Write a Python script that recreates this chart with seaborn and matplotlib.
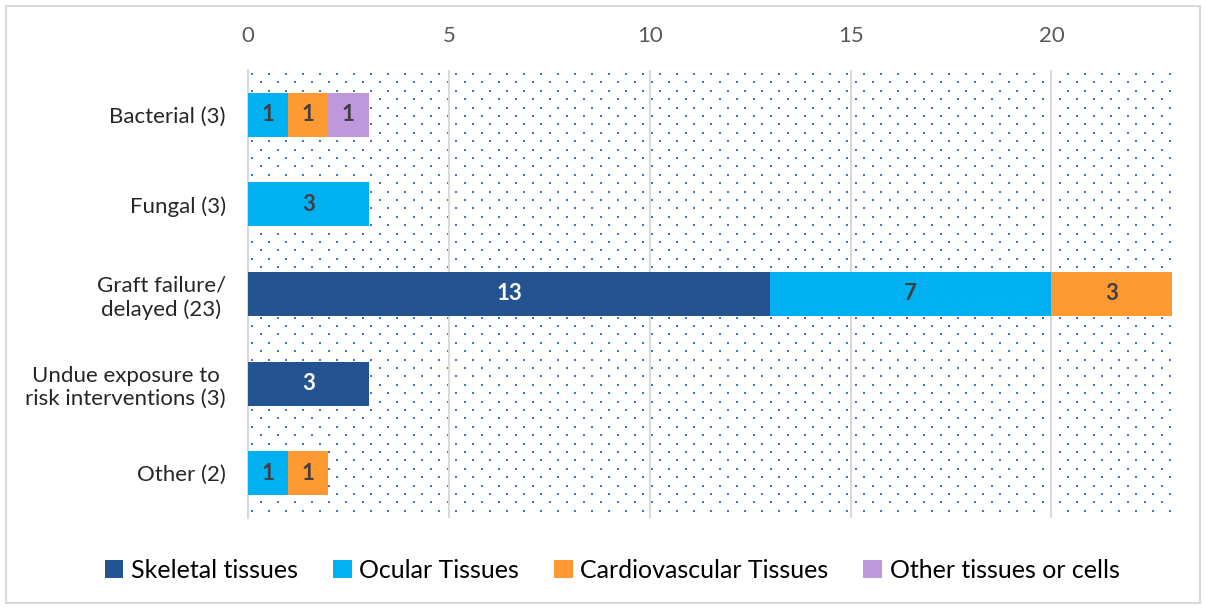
import matplotlib
matplotlib.use('Agg')
import matplotlib.pyplot as plt
import seaborn as sns
import numpy as np
import pandas as pd
from matplotlib.patches import Rectangle, Patch

# data
categories = ['Bacterial (3)', 'Fungal (3)', 'Graft failure/\ndelayed (23)',
              'Undue exposure to\nrisk interventions (3)', 'Other (2)']
series_names = ['Skeletal tissues', 'Ocular Tissues', 'Cardiovascular Tissues', 'Other tissues or cells']
skeletal = [0, 0, 13, 3, 0]
ocular = [1, 3, 7, 0, 1]
cardio = [1, 0, 3, 0, 1]
other_cells = [1, 0, 0, 0, 0]
x_ticks = [0, 5, 10, 15, 20]

colors = ['#245391', '#00B0F0', '#FF9A33', '#BF97DD']
label_colors = ['white', '#404040', '#404040', '#404040']

sns.set_style('white')
plt.rcParams['font.family'] = ['Lato', 'DejaVu Sans']

W, H = 1206, 608
fig = plt.figure(figsize=(W / 100, H / 100), dpi=100)
ax_l, ax_t, ax_w, ax_h = 248, 70, 924, 448
ax = fig.add_axes([ax_l / W, 1 - (ax_t + ax_h) / H, ax_w / W, ax_h / H])

# figure frame
fig.patches.append(Rectangle((6 / W, 5 / H), 1 - 12 / W, 1 - 11 / H,
                             transform=fig.transFigure, fill=False,
                             edgecolor='#D9D9D9', linewidth=1.5))

# dotted plot-area fill (staggered dot lattice, in pixels)
dx, dy = 17.0, 8.4
pts = []
for r, yy in enumerate(np.arange(4, ax_h, dy)):
    x0 = 4 if r % 2 == 0 else 4 + dx / 2
    for xx in np.arange(x0, ax_w, dx):
        pts.append((xx / ax_w, 1 - yy / ax_h))
pts = np.array(pts)
ax.scatter(pts[:, 0], pts[:, 1], transform=ax.transAxes, marker='s', s=1.6,
           color='#4472C4', linewidths=0, zorder=0, clip_on=False)

series = [skeletal, ocular, cardio, other_cells]
cum = np.cumsum(np.array(series), axis=0)

# stacked bars: draw cumulative totals from outermost inwards
for i in range(len(series) - 1, -1, -1):
    df = pd.DataFrame({'cat': categories, 'val': cum[i]})
    sns.barplot(data=df, x='val', y='cat', orient='h', color=colors[i],
                width=0.49, saturation=1, linewidth=0, ax=ax, zorder=3)

# segment labels
for i, vals in enumerate(series):
    for j, v in enumerate(vals):
        if v > 0:
            ax.text(cum[i][j] - v / 2, j, str(v), ha='center', va='center',
                    fontsize=16, fontweight='bold', color=label_colors[i], zorder=4)

ax.set_xlim(0, 23)
ax.set_ylim(4.5, -0.5)
ax.set_xticks(x_ticks)
ax.xaxis.tick_top()
ax.tick_params(axis='x', length=0, pad=17, labelsize=16, labelcolor='#595959')
ax.tick_params(axis='y', length=0, pad=16, labelsize=16, labelcolor='#262626')
for lab in ax.get_yticklabels():
    lab.set_multialignment('center')
ax.set_xlabel('')
ax.set_ylabel('')

ax.grid(axis='x', color='#D9D9D9', linewidth=1.5, zorder=1)
ax.set_axisbelow(True)
for s in ['top', 'right', 'bottom']:
    ax.spines[s].set_visible(False)
ax.spines['left'].set_color('#D9D9D9')
ax.spines['left'].set_linewidth(1.5)

handles = [Patch(facecolor=c, edgecolor='none') for c in colors]
fig.legend(handles, series_names, loc='center', bbox_to_anchor=(612 / W, 1 - 570 / H),
           ncol=4, frameon=False, fontsize=18, handlelength=0.75, handleheight=0.75,
           handletextpad=0.3, columnspacing=1.4, labelcolor='black')

fig.savefig('out.png', dpi=100)
plt.close(fig)
